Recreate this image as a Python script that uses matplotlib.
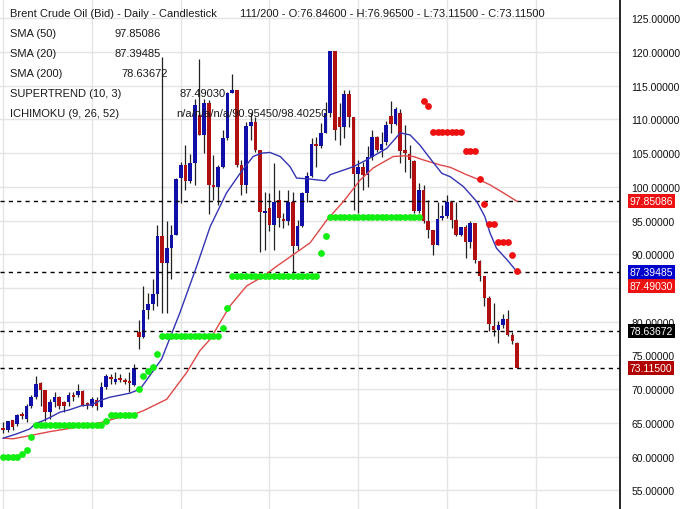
import numpy as np
import matplotlib
matplotlib.use("Agg")
import matplotlib.pyplot as plt

plt.rcParams['font.family'] = ['Liberation Sans', 'DejaVu Sans']

# daily candles, bar index 0..110
opens = [64.3, 63.9, 65.4, 64.9, 66.3, 65.6, 67.55, 68.8, 70.9, 69.8,
         66.6, 68.05, 68.8, 68.05, 68.05, 69.1, 69.1, 69.7, 67.9, 67.55,
         68.4, 67.3, 70.3, 71.75, 71.0, 71.6, 71.25, 71.1, 70.6, 78.4,
         77.8, 81.8, 82.6, 84.05, 92.65, 88.7, 90.95, 92.9, 101.3, 103.25,
         100.8, 103.5, 110.6, 107.7, 112.4, 100.3, 100.0, 103.0, 107.2, 113.9,
         114.3, 103.25, 100.3, 109.0, 109.6, 105.4, 96.1, 96.8, 94.4, 98.1,
         95.2, 94.9, 97.8, 91.2, 94.2, 99.1, 101.6, 106.35, 106.05, 108.0,
         111.0, 120.2, 110.4, 108.85, 113.7, 110.4, 101.9, 103.0, 101.8, 104.4,
         107.4, 105.5, 106.6, 110.55, 109.3, 111.0, 105.4, 104.9, 103.9, 96.35,
         99.55, 94.9, 93.55, 91.4, 95.4, 95.7, 97.7, 95.1, 92.9, 94.1,
         91.8, 94.6, 88.95, 86.75, 83.55, 79.4, 78.8, 79.5, 80.35, 78.0,
         76.846]
highs = [65.1, 65.3, 65.4, 66.3, 66.6, 67.8, 69.1, 72.0, 71.1, 69.8,
         68.5, 69.5, 69.0, 68.3, 69.5, 69.55, 70.75, 69.9, 68.1, 68.8,
         68.8, 71.0, 72.2, 72.2, 72.5, 72.2, 71.6, 72.5, 73.7, 80.3,
         85.3, 84.3, 86.3, 94.4, 119.2, 94.9, 94.4, 101.3, 103.7, 106.2,
         104.9, 113.1, 119.0, 113.1, 112.85, 104.7, 103.25, 108.4, 114.1, 116.8,
         114.3, 104.0, 109.6, 110.9, 110.4, 105.5, 99.3, 99.1, 103.5, 99.55,
         96.1, 99.55, 99.3, 95.1, 99.3, 102.25, 107.2, 107.4, 109.5, 112.6,
         120.2, 120.2, 112.4, 114.3, 114.3, 110.4, 104.0, 103.7, 106.0, 108.4,
         107.6, 108.2, 109.75, 112.8, 111.8, 111.6, 109.2, 106.2, 104.0, 100.5,
         100.3, 98.1, 93.65, 97.8, 97.3, 98.8, 97.8, 97.8, 94.1, 94.4,
         94.9, 94.6, 89.2, 86.75, 83.8, 82.8, 80.1, 81.1, 81.8, 78.4,
         76.965]
lows = [63.5, 63.7, 64.0, 64.6, 65.6, 65.1, 67.2, 68.5, 67.55, 65.3,
        65.6, 67.3, 67.05, 66.6, 67.55, 68.3, 68.8, 67.55, 67.05, 67.3,
        66.9, 67.3, 70.0, 70.75, 70.75, 71.0, 70.75, 69.5, 70.5, 75.9,
        77.6, 80.35, 81.8, 82.3, 81.3, 81.3, 86.3, 92.8, 97.6, 99.55,
        100.6, 100.3, 107.7, 105.0, 95.9, 98.1, 97.3, 102.8, 106.9, 113.85,
        103.0, 98.8, 99.1, 106.9, 105.2, 90.4, 90.7, 93.5, 90.7, 94.1,
        93.9, 94.4, 86.3, 90.7, 94.0, 97.8, 101.5, 103.0, 105.7, 107.95,
        110.4, 106.9, 106.2, 107.2, 108.9, 96.6, 96.1, 99.55, 100.05, 104.0,
        105.2, 104.5, 106.2, 108.0, 109.1, 103.5, 102.25, 101.3, 96.1, 96.1,
        94.6, 92.4, 89.95, 91.4, 95.1, 95.4, 93.9, 92.65, 92.65, 89.5,
        90.9, 88.7, 86.0, 82.3, 78.6, 77.9, 76.9, 79.1, 77.9, 76.7,
        73.115]
closes = [64.0, 65.3, 64.4, 66.1, 66.0, 67.5, 68.8, 70.75, 69.8, 66.6,
          68.1, 68.8, 67.55, 67.55, 69.1, 68.9, 69.7, 67.55, 67.65, 68.5,
          67.55, 70.3, 72.0, 71.5, 71.5, 71.4, 71.0, 70.9, 73.1, 77.8,
          81.8, 82.6, 84.05, 92.65, 88.7, 90.95, 92.9, 101.1, 103.25, 100.8,
          103.5, 112.1, 107.7, 112.4, 100.3, 100.0, 103.0, 107.2, 113.85, 114.3,
          103.25, 100.3, 109.0, 109.6, 105.5, 96.2, 96.35, 94.4, 97.8, 95.4,
          94.9, 97.8, 91.2, 94.2, 99.1, 101.6, 106.35, 106.05, 108.0, 111.0,
          120.2, 108.4, 108.85, 113.7, 110.4, 101.9, 103.0, 101.8, 104.4, 107.4,
          105.5, 106.4, 109.2, 109.3, 111.55, 105.3, 105.0, 104.0, 96.35, 99.55,
          94.9, 93.65, 91.4, 95.2, 95.7, 97.7, 95.1, 92.9, 94.05, 91.8,
          94.6, 89.2, 86.75, 83.55, 79.6, 78.8, 79.5, 80.35, 78.1, 77.15,
          73.115]

# moving averages, read at points along the drawn lines (bar index, value)
sma20_idx = [0, 2.9, 5.7, 6.8, 8.6, 10, 12.1, 14.3, 16.8, 18.9, 20.7, 22.8, 25, 27.1,
             29.3, 33.9, 37.8, 41.4, 44.3, 47.8, 50.7, 53.5, 55.3, 57.1, 59.3, 61.4,
             62.8, 65, 68.9, 70, 72.1, 75, 77.8, 82.1, 85, 87.1, 89.2, 91.4, 93.9,
             95.7, 98.5, 101.4, 103.1, 104.2, 105.6, 108.1, 110]
sma20_val = [62.73, 63.37, 64.1, 64.85, 65.33, 65.8, 66.57, 66.96, 67.55, 67.66, 68.3,
             68.8, 69.1, 69.4, 70.0, 74.45, 81.3, 88.2, 94.1, 99.1, 102.0, 104.5, 105.0,
             105.1, 104.5, 103.0, 101.3, 101.2, 100.9, 101.8, 102.3, 103.0, 104.0, 105.7,
             108.0, 107.7, 106.2, 104.2, 102.0, 101.5, 100.05, 97.8, 95.6, 93.2, 90.9,
             89.0, 87.39485]
sma50_idx = [0, 2.1, 6.4, 10, 13.6, 17.1, 20.7, 24.3, 27.8, 30, 35, 39.3, 42.1, 44.3,
             48.5, 52.1, 55.7, 58.5, 62.1, 65.7, 69.3, 72.8, 76.4, 79.2, 83.5, 85.7,
             87.8, 89.9, 93.5, 95.7, 99.2, 102.1, 104.2, 107.1, 110]
sma50_val = [62.73, 62.63, 63.2, 63.7, 64.1, 64.6, 65.0, 65.7, 66.2, 66.8, 68.5, 72.5,
             75.7, 77.4, 82.3, 85.3, 86.75, 88.2, 89.95, 91.7, 95.1, 97.8, 101.0, 102.8,
             104.5, 104.6, 104.5, 104.0, 103.25, 102.9, 101.8, 101.0, 100.3, 99.1, 97.85086]

# supertrend dots: uptrend bars 0..89, downtrend bars 90..110
st_up = [59.9, 59.9, 59.9, 59.9, 60.4, 60.9, 62.9] + [64.7] * 15 + [65.2] + [66.2] * 6 \
    + [70.0, 72.0, 72.7, 73.35, 75.2] + [77.9] * 13 + [79.1, 82.1] + [86.75] * 19 \
    + [90.2, 92.65] + [95.5] * 20
st_down = [112.75, 112.0] + [108.2] * 7 + [105.3] * 3 + [101.2, 97.5, 94.5, 94.5] \
    + [91.8] * 3 + [89.85, 87.4903]

last_lines = [(97.85086, '#ee1111'), (87.39485, '#0000cc'), (78.63672, '#000000'),
              (73.11500, '#b00000')]
supertrend_last = 87.49030

fig = plt.figure(figsize=(6.9, 5.1), dpi=100)
ax = fig.add_axes([0, 0, 620 / 690, 1])

x = np.arange(len(opens))
o = np.array(opens)
c = np.array(closes)
up = c >= o
body_lo = np.minimum(o, c)
body_h = np.maximum(np.abs(c - o), 0.3)

ax.vlines(x, lows, highs, color='#222222', lw=0.9, zorder=2)
ax.bar(x[up], body_h[up], bottom=body_lo[up], width=0.78, color='#1010a8', zorder=2.5)
ax.bar(x[~up], body_h[~up], bottom=body_lo[~up], width=0.78, color='#b01010', zorder=2.5)

for v, col in last_lines:
    ax.axhline(v, color='black', lw=1, ls=(0, (3, 3)), zorder=3)

ax.plot(sma50_idx, sma50_val, color='#e04848', lw=1, zorder=4)
ax.plot(sma20_idx, sma20_val, color='#3434b4', lw=1, zorder=4)

ax.scatter(np.arange(len(st_up)), st_up, s=24, color='#11ee11', lw=0, zorder=5)
ax.scatter(np.arange(len(st_up), len(st_up) + len(st_down)), st_down, s=24,
           color='#ee1111', lw=0, zorder=5)

ax.set_xlim(-0.7, 132.05)
ax.set_ylim(52.22, 127.86)
ax.set_yticks(np.arange(55, 126, 5))
ax.yaxis.set_major_formatter(matplotlib.ticker.FormatStrFormatter('%.5f'))
ax.set_xticks(np.arange(0, 132, 19))
ax.grid(color='#e4e4e4', lw=1)
ax.set_axisbelow(True)
ax.yaxis.tick_right()
ax.tick_params(axis='y', length=0, pad=8, labelsize=7.5, labelcolor='#111111')
ax.tick_params(axis='x', length=0, labelbottom=False)
for s in ['left', 'top', 'bottom']:
    ax.spines[s].set_visible(False)
ax.spines['right'].set_color('black')
ax.spines['right'].set_linewidth(1.2)

# value boxes on the price axis
tr = ax.get_yaxis_transform()
for v, col in last_lines:
    ax.text(1.0156, v, '%.5f' % v, transform=tr, va='center', ha='left', fontsize=7.5,
            color='white', clip_on=False, zorder=10,
            bbox=dict(boxstyle='square,pad=0.2', fc=col, ec='none'))
ax.annotate('%.5f' % supertrend_last, xy=(1.0156, 87.39485), xycoords=tr,
            xytext=(0, -10.2), textcoords='offset points', va='center', ha='left',
            fontsize=7.5, color='white', annotation_clip=False, zorder=10,
            bbox=dict(boxstyle='square,pad=0.2', fc='#ee1111', ec='none'))

# header and indicator legend
def px_text(px, py, s):
    fig.text(px / 690, 1 - py / 510, s, fontsize=8, color='#1a1a1a', va='center', ha='left')

px_text(10, 14.3, 'Brent Crude Oil (Bid) - Daily - Candlestick')
px_text(240, 14.3, '111/200 - O:76.84600 - H:76.96500 - L:73.11500 - C:73.11500')
px_text(10, 34, 'SMA (50)')
px_text(114.3, 34, '97.85086')
px_text(10, 54, 'SMA (20)')
px_text(114.3, 54, '87.39485')
px_text(10, 74, 'SMA (200)')
px_text(121, 74, '78.63672')
px_text(10, 94, 'SUPERTREND (10, 3)')
px_text(179, 94, '87.49030')
px_text(10, 114, 'ICHIMOKU (9, 26, 52)')
px_text(176.7, 114, 'n/a/n/a/n/a/90.95450/98.40250')

fig.savefig('out.png', dpi=100)
